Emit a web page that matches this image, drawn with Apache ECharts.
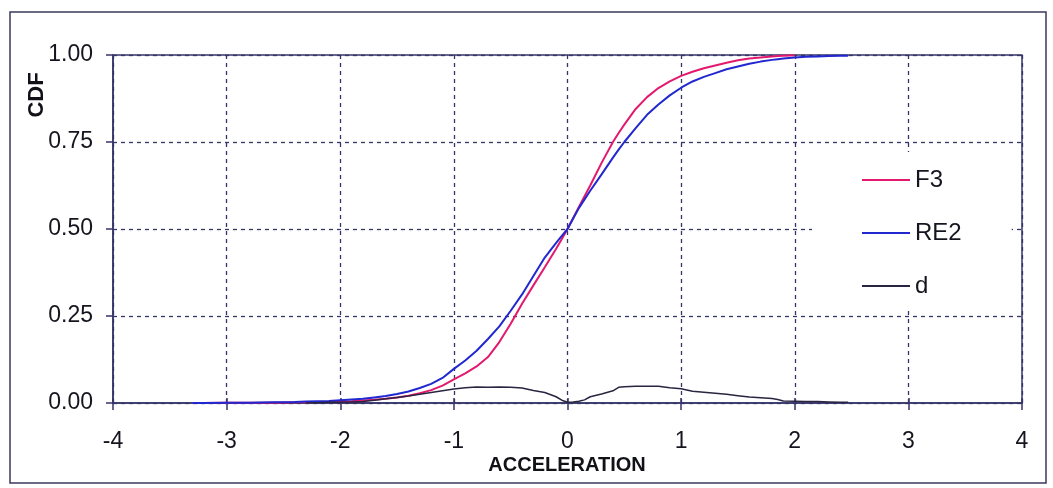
<!DOCTYPE html>
<html>
<head>
<meta charset="utf-8">
<script src="https://cdn.jsdelivr.net/npm/echarts@6/dist/echarts.min.js"></script>
<style>
  html, body { margin: 0; padding: 0; background: #ffffff; }
  #chart { width: 1053px; height: 488px; }
</style>
</head>
<body>
<div id="chart"></div>
<script>
// Acceleration sample points (shared x positions for the three curves)
const accel = [-3.4, -3.3, -3.2, -3.0, -2.8, -2.6, -2.4, -2.3, -2.2, -2.1,
  -2.0, -1.9, -1.8, -1.7, -1.6, -1.5, -1.4, -1.3, -1.2, -1.1,
  -1.0, -0.9, -0.8, -0.7, -0.6, -0.5, -0.4, -0.3, -0.2, -0.1,
  -0.05, 0, 0.05, 0.1, 0.15, 0.2, 0.3, 0.4, 0.45, 0.5,
  0.6, 0.7, 0.8, 0.9, 1.0, 1.1, 1.2, 1.3, 1.4, 1.5,
  1.6, 1.7, 1.8, 1.85, 1.9, 2.0, 2.1, 2.2, 2.3, 2.4, 2.47];

// Empirical CDF of F3
const f3 = [null, 0.000, 0.000, 0.001, 0.001, 0.001, 0.002, 0.002, 0.003, 0.003,
  0.004, 0.005, 0.007, 0.009, 0.012, 0.016, 0.021, 0.028, 0.037, 0.050,
  0.068, 0.085, 0.105, 0.132, 0.175, 0.228, 0.285, 0.338, 0.390, 0.443,
  0.471, 0.500, 0.532, 0.563, 0.594, 0.625, 0.690, 0.750, 0.776, 0.800,
  0.845, 0.879, 0.905, 0.924, 0.940, 0.952, 0.962, 0.970, 0.978, 0.985,
  0.990, 0.993, 0.996, 0.997, 0.998, 0.999, null, null, null, null, null];

// Empirical CDF of RE2
const re2 = [null, 0.000, 0.000, 0.001, 0.001, 0.002, 0.003, 0.004, 0.005, 0.006,
  0.008, 0.010, 0.012, 0.016, 0.020, 0.026, 0.033, 0.043, 0.055, 0.072,
  0.098, 0.122, 0.150, 0.184, 0.220, 0.265, 0.312, 0.365, 0.418, 0.460,
  0.480, 0.500, 0.530, 0.560, 0.585, 0.610, 0.657, 0.705, 0.728, 0.750,
  0.790, 0.828, 0.858, 0.884, 0.906, 0.924, 0.937, 0.948, 0.959, 0.967,
  0.975, 0.981, 0.986, 0.988, 0.990, 0.993, 0.995, 0.996, 0.997, 0.998, 0.998];

// Absolute difference d between the two CDFs
const dDiff = [null, null, null, null, null, null, null, 0.001, 0.001, 0.002,
  0.002, 0.003, 0.004, 0.008, 0.012, 0.016, 0.020, 0.025, 0.030, 0.035,
  0.040, 0.044, 0.046, 0.045, 0.046, 0.045, 0.043, 0.036, 0.030, 0.018,
  0.008, 0.002, 0.003, 0.005, 0.009, 0.018, 0.026, 0.035, 0.045, 0.047,
  0.048, 0.048, 0.048, 0.044, 0.041, 0.034, 0.031, 0.028, 0.025, 0.021,
  0.017, 0.015, 0.013, 0.010, 0.006, 0.005, 0.004, 0.004, 0.003, 0.002, 0.002];

const seriesNames = ['F3', 'RE2', 'd'];
const seriesColors = ['#e3196e', '#2128cf', '#2a2440'];

const AXIS = '#34346a';
const FONT = '"Liberation Sans", Arial, Helvetica, sans-serif';

function pairs(ys) {
  return accel.map((x, i) => [x, ys[i]]);
}

const chart = echarts.init(document.getElementById('chart'), null, { renderer: 'canvas' });

const baseX = {
  type: 'value', min: -4, max: 4, interval: 1, position: 'bottom'
};

chart.setOption({
  backgroundColor: '#ffffff',
  animation: false,
  grid: {
    left: 113, right: 31, top: 55, bottom: 85,
    show: true, borderColor: AXIS, borderWidth: 1.5, backgroundColor: 'transparent'
  },
  xAxis: [
    Object.assign({}, baseX, {
      axisLine: { show: true, onZero: false, lineStyle: { color: AXIS, width: 1.5 } },
      axisTick: { show: true, inside: false, length: 7, lineStyle: { color: AXIS, width: 1.5 } },
      axisLabel: { color: '#15151f', fontSize: 23, fontFamily: FONT, margin: 27 },
      splitLine: { show: true, lineStyle: { color: AXIS, width: 1.3, type: [4, 4] } }
    }),
    Object.assign({}, baseX, {
      axisLine: { show: false, onZero: false },
      axisTick: { show: true, inside: true, length: 5, lineStyle: { color: AXIS, width: 1.5 } },
      axisLabel: { show: false },
      splitLine: { show: false }
    })
  ],
  yAxis: {
    type: 'value', min: 0, max: 1, interval: 0.25,
    axisLine: { show: true, onZero: false, lineStyle: { color: AXIS, width: 1.5 } },
    axisTick: { show: true, inside: false, length: 7, lineStyle: { color: AXIS, width: 1.5 } },
    axisLabel: {
      color: '#15151f', fontSize: 23, fontFamily: FONT, margin: 20,
      formatter: v => v.toFixed(2)
    },
    splitLine: { show: true, lineStyle: { color: AXIS, width: 1.3, type: [4, 4] } }
  },
  legend: {
    orient: 'vertical',
    left: 812, top: 152,
    padding: [14, 50, 8, 50],
    backgroundColor: '#ffffff',
    icon: 'rect',
    itemWidth: 48, itemHeight: 2, itemGap: 25,
    textStyle: { fontSize: 24, lineHeight: 28, color: '#15151f', fontFamily: FONT },
    data: seriesNames
  },
  series: [
    {
      name: seriesNames[0], type: 'line', xAxisIndex: 0, symbol: 'none',
      data: pairs(f3), lineStyle: { color: seriesColors[0], width: 2 },
      itemStyle: { color: seriesColors[0] }
    },
    {
      name: seriesNames[1], type: 'line', xAxisIndex: 0, symbol: 'none',
      data: pairs(re2), lineStyle: { color: seriesColors[1], width: 2 },
      itemStyle: { color: seriesColors[1] }
    },
    {
      name: seriesNames[2], type: 'line', xAxisIndex: 0, symbol: 'none',
      data: pairs(dDiff), lineStyle: { color: seriesColors[2], width: 1.5 },
      itemStyle: { color: seriesColors[2] }
    }
  ],
  graphic: [
    {
      type: 'rect', silent: true, z: 0,
      shape: { x: 10, y: 12, width: 1036, height: 471 },
      style: { fill: 'none', stroke: '#3a3a5c', lineWidth: 1.5 }
    },
    {
      type: 'text', silent: true,
      x: 567, y: 465,
      style: {
        text: 'ACCELERATION', fill: '#111118',
        font: 'bold 20px ' + FONT,
        align: 'center', verticalAlign: 'middle'
      }
    },
    {
      type: 'text', silent: true,
      x: 37, y: 95, rotation: Math.PI / 2,
      style: {
        text: 'CDF', fill: '#111118',
        font: 'bold 22px ' + FONT,
        align: 'center', verticalAlign: 'middle'
      }
    }
  ]
});
</script>
</body>
</html>
